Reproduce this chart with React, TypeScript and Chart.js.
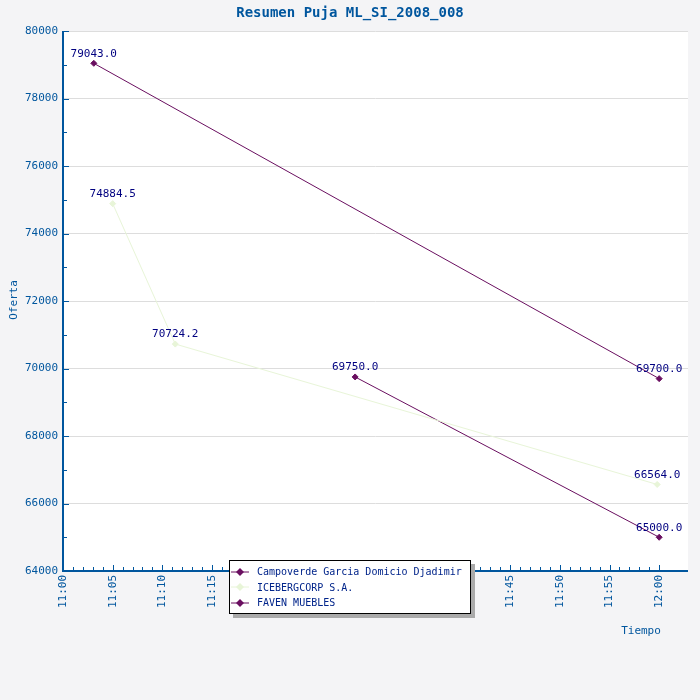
import React, { useEffect, useRef } from "react";
import { Chart, registerables } from "chart.js";
Chart.register(...registerables);

const seriesNames = ["Campoverde Garcia Domicio Djadimir", "ICEBERGCORP S.A.", "FAVEN MUEBLES"];
const seriesColors = ["#6a0f60", "#e8f5d8", "#6a0f60"];
// minutes after 11:00
const campoverdeX = [3.1, 60];
const campoverdeY = [79043.0, 69700.0];
const icebergX = [5.0, 11.3, 59.8];
const icebergY = [74884.5, 70724.2, 66564.0];
const favenX = [29.4, 60];
const favenY = [69750.0, 65000.0];

const FONT = "'DejaVu Sans Mono', 'Liberation Mono', monospace";
const NAVY = "#00569e";

const pts = (xs: number[], ys: number[]) => xs.map((x, i) => ({ x, y: ys[i] }));

export default function App() {
  const ref = useRef<HTMLCanvasElement>(null);
  useEffect(() => {
    document.body.style.margin = "0";
    const deco = {
      id: "deco",
      beforeDraw(c: any) {
        const ctx = c.ctx, a = c.chartArea;
        ctx.save();
        ctx.fillStyle = "#f4f4f6";
        ctx.fillRect(0, 0, c.width, c.height);
        ctx.fillStyle = "#ffffff";
        ctx.fillRect(a.left, a.top, a.right - a.left, a.bottom - a.top);
        ctx.restore();
      },
      afterDraw(c: any) {
        const ctx = c.ctx, a = c.chartArea;
        const xs = c.scales.x, ys = c.scales.y;
        ctx.save();
        ctx.strokeStyle = NAVY;
        ctx.lineWidth = 2;
        ctx.beginPath();
        ctx.moveTo(a.left, a.top); ctx.lineTo(a.left, a.bottom); ctx.lineTo(a.right, a.bottom);
        ctx.stroke();
        ctx.lineWidth = 1;
        ctx.beginPath();
        for (let v = 64000; v <= 80000; v += 1000) {
          const y = Math.round(ys.getPixelForValue(v)) + 0.5;
          ctx.moveTo(a.left, y); ctx.lineTo(a.left + (v % 2000 === 0 ? 6 : 4), y);
        }
        for (let m = 0; m <= 60; m++) {
          const x = Math.round(xs.getPixelForValue(m)) + 0.5;
          ctx.moveTo(x, a.bottom); ctx.lineTo(x, a.bottom - (m % 5 === 0 ? 6 : 4));
        }
        ctx.stroke();
        ctx.fillStyle = NAVY;
        ctx.font = "11px " + FONT;
        for (let m = 0; m <= 60; m += 5) {
          const x = xs.getPixelForValue(m);
          const t = `${m === 60 ? 12 : 11}:${String(m % 60).padStart(2, "0")}`;
          ctx.save();
          ctx.translate(x, a.bottom + 4);
          ctx.rotate(-Math.PI / 2);
          ctx.textAlign = "right"; ctx.textBaseline = "middle";
          ctx.fillText(t, 0, 0);
          ctx.restore();
        }
        ctx.textAlign = "right"; ctx.textBaseline = "middle";
        for (let v = 64000; v <= 80000; v += 2000) ctx.fillText(String(v), a.left - 5, ys.getPixelForValue(v));
        ctx.save();
        ctx.translate(14, 300); ctx.rotate(-Math.PI / 2);
        ctx.textAlign = "center"; ctx.fillText("Oferta", 0, 0);
        ctx.restore();
        ctx.textAlign = "center";
        ctx.fillText("Tiempo", 641, 631);
        ctx.font = "bold 14px " + FONT;
        ctx.fillText("Resumen Puja ML_SI_2008_008", 350, 13);
        ctx.font = "11px " + FONT;
        ctx.fillStyle = "#000080";
        ctx.textBaseline = "bottom";
        c.data.datasets.forEach((ds: any, i: number) => {
          c.getDatasetMeta(i).data.forEach((el: any, j: number) => {
            const v = ds.data[j].y;
            ctx.fillText(v.toFixed(1), el.x, el.y - 4);
          });
        });
        ctx.restore();
      },
    };
    const chart = new Chart(ref.current!, {
      type: "scatter",
      data: {
        datasets: [
          { label: seriesNames[0], data: pts(campoverdeX, campoverdeY) },
          { label: seriesNames[1], data: pts(icebergX, icebergY) },
          { label: seriesNames[2], data: pts(favenX, favenY) },
        ].map((d, i) => ({
          ...d, showLine: true, borderColor: seriesColors[i], backgroundColor: seriesColors[i],
          borderWidth: 1, pointStyle: "rectRot", pointRadius: 3, pointHoverRadius: 3,
        })),
      },
      plugins: [deco],
      options: {
        animation: false, responsive: false,
        layout: { padding: { top: 31, right: 12, left: 0, bottom: 0 } },
        plugins: { legend: { display: false }, title: { display: false }, tooltip: { enabled: false } },
        scales: {
          x: {
            type: "linear", min: 0, max: 62.9,
            grid: { display: false }, border: { display: false },
            ticks: { display: false, stepSize: 5 },
            afterFit: (s: any) => { s.height = 129; },
          },
          y: {
            min: 64000, max: 80000,
            grid: { color: "#dddddd", drawTicks: false }, border: { display: false },
            ticks: { display: false, stepSize: 2000 },
            afterFit: (s: any) => { s.width = 63; },
          },
        },
      },
    } as any);
    return () => chart.destroy();
  }, []);
  return (
    <div style={{ position: "relative", width: 700, height: 700 }}>
      <canvas ref={ref} width={700} height={700} style={{ display: "block", border: "none" }} />
      <div style={{ position: "absolute", left: 229, top: 560, width: 240, height: 52, background: "#fff",
        border: "1px solid #000", boxShadow: "4px 4px 0 #aaa", font: "10px " + FONT, color: "#00248a",
        whiteSpace: "nowrap", overflow: "hidden" }}>
        {seriesNames.map((n, i) => (
          <div key={n} style={{ display: "flex", alignItems: "center", height: 15.5, marginTop: i === 0 ? 3 : 0 }}>
            <svg width="18" height="10" style={{ margin: "0 8px 0 1px", flex: "none" }}>
              <line x1="0" y1="5" x2="18" y2="5" stroke={seriesColors[i]} />
              <polygon points="9,1 13,5 9,9 5,5" fill={seriesColors[i]} />
            </svg>
            {n}
          </div>
        ))}
      </div>
    </div>
  );
}
